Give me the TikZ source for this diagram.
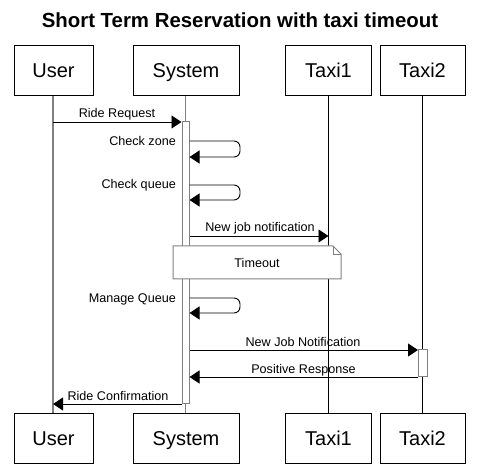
\documentclass[tikz,border=0pt]{standalone}
\usepackage{fontspec}
\setmainfont{Liberation Sans}
\usetikzlibrary{arrows.meta}
\definecolor{linegray}{HTML}{808080}
\tikzset{
  actor/.style={draw=black, line width=0.8pt, fill=white, minimum height=50pt, inner sep=0pt, text height=14.3pt, text depth=0pt, font=\fontsize{20}{22}\selectfont},
  lifeA/.style={draw=linegray, line width=1.3pt},
  lifeB/.style={draw=black, line width=0.9pt},
  actbar/.style={draw=linegray, line width=1pt, fill=white, minimum width=7pt, inner sep=0pt},
  msg/.style={draw=black, line width=0.9pt, -{Triangle[length=10pt,width=13pt]}},
  lbl/.style={font=\fontsize{12.6}{14}\selectfont, inner sep=0pt, text height=9pt, text depth=0pt},
  notebox/.style={draw=linegray, line width=1pt, fill=white}
}
\begin{document}
\begin{tikzpicture}[x=1pt,y=-1pt]
\useasboundingbox (0,0) rectangle (480,470);
% title
\node[font=\bfseries\fontsize{20.4}{22}\selectfont] (title) at (240,20) {Short Term Reservation with taxi timeout};
% lifelines first
\coordinate (uT) at (53,95); \coordinate (uB) at (53,413);
\coordinate (sT) at (185.5,95); \coordinate (sB) at (185.5,413);
\coordinate (t1T) at (328.5,95); \coordinate (t1B) at (328.5,413);
\coordinate (t2T) at (422.5,95); \coordinate (t2B) at (422.5,413);
\draw[lifeA] (uT) -- (uB);
\draw[lifeA] (sT) -- (sB);
\draw[lifeB] (t1T) -- (t1B);
\draw[lifeB] (t2T) -- (t2B);
% actor boxes
\node[actor, minimum width=79pt] (userT) at (53.5,70) {User};
\node[actor, minimum width=106pt] (sysT) at (186,70) {System};
\node[actor, minimum width=86pt] (taxi1T) at (328.5,70) {Taxi1};
\node[actor, minimum width=85pt] (taxi2T) at (422.5,70) {Taxi2};
\node[actor, minimum width=79pt] (userB) at (53.5,438.5) {User};
\node[actor, minimum width=106pt] (sysB) at (186,438.5) {System};
\node[actor, minimum width=86pt] (taxi1B) at (328.5,438.5) {Taxi1};
\node[actor, minimum width=85pt] (taxi2B) at (422.5,438.5) {Taxi2};
% activation bars
\node[actbar, minimum height=282pt] (sysact) at (185.5,263) {};
\node[actbar, minimum width=9pt, minimum height=27pt] (t2act) at (423,363.5) {};
% Ride Request
\coordinate (rrS) at (53,122);
\draw[msg] (rrS) -- (sysact.west |- rrS);
\node[lbl] (rrL) at (117,113) {Ride Request};
% Check zone
\coordinate (cz1) at (sysact.east |- 0,141);
\coordinate (cz2) at (sysact.east |- 0,157);
\draw[msg, rounded corners=6pt] (cz1) -- (240,141) -- (240,157) -- (cz2);
\node[lbl, anchor=east] (czL) at (176,141) {Check zone};
% Check queue
\coordinate (cq1) at (sysact.east |- 0,185);
\coordinate (cq2) at (sysact.east |- 0,200);
\draw[msg, rounded corners=6pt] (cq1) -- (240,185) -- (240,200) -- (cq2);
\node[lbl, anchor=east] (cqL) at (176,184) {Check queue};
% New job notification
\coordinate (nj1) at (sysact.east |- 0,236);
\draw[msg] (nj1) -- (t1T |- nj1);
\node[lbl] (njL) at (260,227) {New job notification};
% Timeout note
\draw[notebox] (173,246) -- (333,246) -- (341,254) -- (341,279) -- (173,279) -- cycle;
\draw[draw=linegray, line width=0.8pt] (333,246) -- (333,254) -- (341,254);
\node[lbl] (tmL) at (257,263) {Timeout};
% Manage Queue
\coordinate (mq1) at (sysact.east |- 0,298);
\coordinate (mq2) at (sysact.east |- 0,313);
\draw[msg, rounded corners=6pt] (mq1) -- (240,298) -- (240,313) -- (mq2);
\node[lbl, anchor=east] (mqL) at (176,298) {Manage Queue};
% New Job Notification
\coordinate (nn1) at (sysact.east |- 0,350);
\draw[msg] (nn1) -- (t2act.west |- nn1);
\node[lbl] (nnL) at (303,342) {New Job Notification};
% Positive Response
\coordinate (pr1) at (t2act.west |- 0,377);
\draw[msg] (pr1) -- (sysact.east |- pr1);
\node[lbl] (prL) at (303.5,369) {Positive Response};
% Ride Confirmation
\coordinate (rc1) at (sysact.west |- 0,404);
\draw[msg] (rc1) -- (uT |- rc1);
\node[lbl] (rcL) at (118,396) {Ride Confirmation};
\end{tikzpicture}
\end{document}
